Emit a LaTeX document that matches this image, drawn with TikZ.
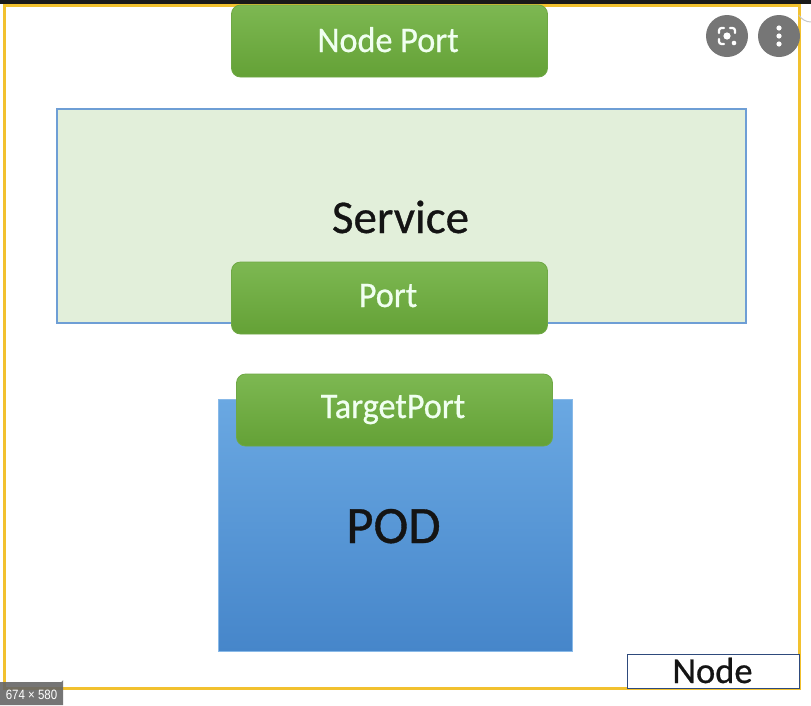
\documentclass[tikz,border=0pt]{standalone}
\usepackage{fontspec}
\usepackage{graphicx}
\setmainfont{Carlito}
\newfontfamily\heavy{Carlito}[FakeBold=0.7]
\newfontfamily\badgefont{Liberation Sans}
\definecolor{gtop}{HTML}{7DB852}
\definecolor{gbot}{HTML}{64A136}
\definecolor{gborder}{HTML}{6FA845}
\definecolor{svcfill}{HTML}{E2EFDA}
\definecolor{svcborder}{HTML}{6E9ED5}
\definecolor{podtop}{HTML}{6AA8E2}
\definecolor{podbot}{HTML}{4686CA}
\definecolor{nodeborder}{HTML}{2E4A7C}
\definecolor{yellowline}{HTML}{F2C12E}
\definecolor{topbar}{HTML}{1A1A1A}
\definecolor{icongray}{HTML}{767676}
\tikzset{
  greenbox/.style={rounded corners=9pt, draw=gborder, line width=0.8pt,
    top color=gtop, bottom color=gbot, minimum width=316pt, minimum height=72pt,
    inner sep=0pt, outer sep=0pt},
  greentext/.style={anchor=base, text=white!94!green, font=\heavy\fontsize{36}{36}\selectfont, inner sep=0pt},
  bigtext/.style={anchor=base, text=black!92, inner sep=0pt},
}
\newcommand{\sq}[1]{\scalebox{0.95}[1]{#1}}
\begin{document}
\begin{tikzpicture}[x=1pt,y=-1pt]
\useasboundingbox (0,0) rectangle (811,705);
\fill[white] (0,0) rectangle (811,705);
% yellow frame
\node[draw=yellowline, line width=3pt, minimum width=795pt, minimum height=683pt, inner sep=0pt] (frame) at (401.5,346.5) {};
% service
\node[draw=svcborder, fill=svcfill, line width=1.6pt, minimum width=689pt, minimum height=214pt, inner sep=0pt] (service) at (401.5,216) {};
\node[bigtext, font=\heavy\fontsize{47}{47}\selectfont] (servicetext) at (400.5,233) {Service};
% node port
\node[greenbox] (nodeport) at (389.5,41) {};
\node[greentext] (nodeporttext) at (388,52) {\sq{Node Port}};
% port
\node[greenbox] (port) at (389.5,298) {};
\node[greentext] (porttext) at (388,307) {\sq{Port}};
% pod
\node[draw=podtop!80!white, line width=0.6pt, top color=podtop, bottom color=podbot, minimum width=354pt, minimum height=252pt, inner sep=0pt] (pod) at (395,525) {};
\node[bigtext, font=\heavy\fontsize{52.5}{52}\selectfont] (podtext) at (393.5,543) {POD};
% target port
\node[greenbox] (targetport) at (394.5,410) {};
\node[greentext] (targetporttext) at (393,418) {\sq{TargetPort}};
% node label box
\node[draw=nodeborder, fill=white, line width=1.6pt, minimum width=172pt, minimum height=34pt, inner sep=0pt] (nodebox) at (713.5,671.5) {};
\node[bigtext, font=\heavy\fontsize{36.5}{36}\selectfont] (nodetext) at (712.5,683) {Node};
% top bar
\fill[topbar] (0,0) rectangle (811,4);
% icons
\node[circle, fill=icongray, minimum size=42pt, inner sep=0pt] (lens) at (727,36) {};
\node[circle, fill=icongray, minimum size=42pt, inner sep=0pt] (menu) at (779,36) {};
\begin{scope}[white, line width=2.2pt, line cap=round]
  \draw[rounded corners=2.5pt] (719,33) -- (719,28) -- (724,28);
  \draw[rounded corners=2.5pt] (730,28) -- (735,28) -- (735,33);
  \draw[rounded corners=2.5pt] (719,39) -- (719,44) -- (724,44);
  \fill (727,36) circle[radius=3.6];
  \fill (734,43) circle[radius=2.3];
  \fill (779,28) circle[radius=2.6];
  \fill (779,36) circle[radius=2.6];
  \fill (779,44) circle[radius=2.6];
\end{scope}
\draw[icongray!40, line width=1pt] (811,22) arc[start angle=90, end angle=150, radius=14];
% badge
\fill[black!60, opacity=0.9] (0,682) -- (61,682) arc[start angle=90, end angle=0, radius=2] -- (63,705) -- (0,705) -- cycle;
\node[anchor=base, text=white, font=\badgefont\fontsize{13.5}{13.5}\selectfont, inner sep=0pt] (badge) at (31.5,699) {\scalebox{0.85}[1]{674 × 580}};
\end{tikzpicture}
\end{document}
